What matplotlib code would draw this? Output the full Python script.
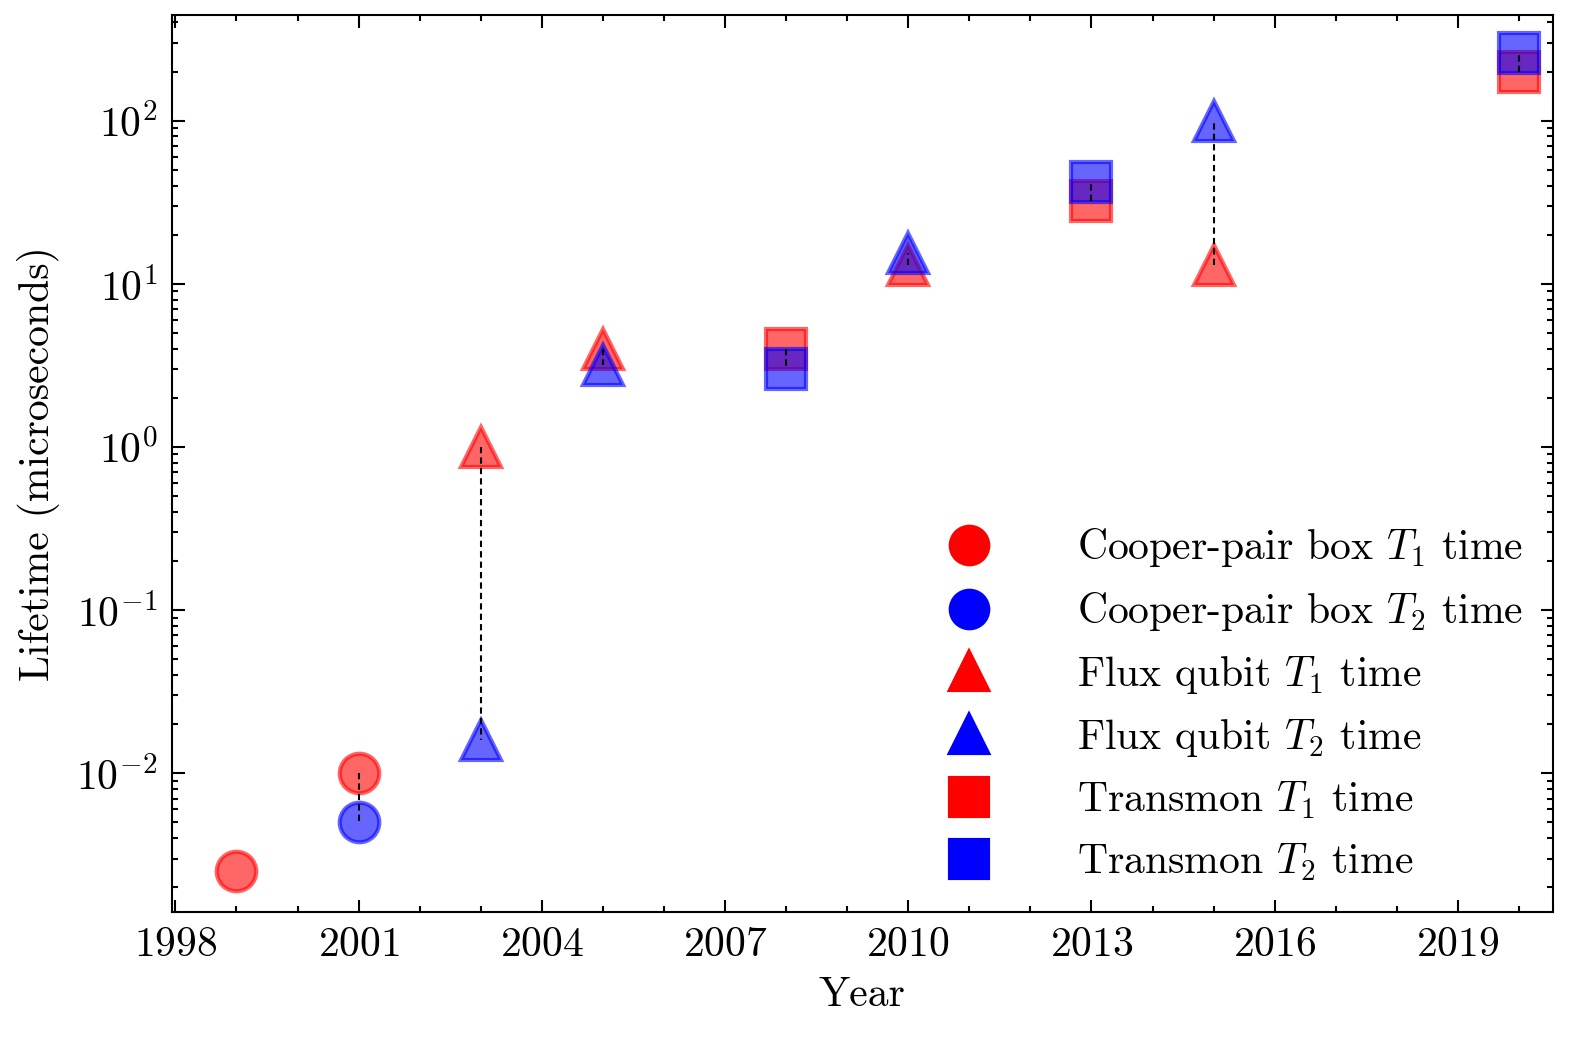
import numpy as np
import matplotlib
matplotlib.use('Agg')
import matplotlib.pyplot as plt

plt.rcParams.update({
    'font.family': 'serif',
    'font.serif': ['cmr10'],
    'mathtext.fontset': 'cm',
    'axes.formatter.use_mathtext': True,
    'font.size': 10,
    'xtick.direction': 'in', 'ytick.direction': 'in',
    'xtick.top': True, 'ytick.right': True,
    'xtick.minor.visible': True, 'ytick.minor.visible': True,
    'xtick.major.size': 3, 'ytick.major.size': 3,
    'xtick.minor.size': 1.5, 'ytick.minor.size': 1.5,
    'axes.linewidth': 0.5, 'xtick.major.width': 0.5, 'ytick.major.width': 0.5,
    'xtick.minor.width': 0.5, 'ytick.minor.width': 0.5,
})

# data
cpb_t1_year = [1999, 2001]
cpb_t1 = [0.0025, 0.01]
cpb_t2_year = [2001]
cpb_t2 = [0.005]
flux_year = [2003, 2005, 2010, 2015]
flux_t1 = [1.0, 4.0, 13.0, 13.0]
flux_t2 = [0.016, 3.2, 15.5, 100.0]
tr_year = [2008, 2013, 2020]
tr_t1 = [4.0, 32.0, 200.0]
tr_t2 = [3.0, 42.0, 260.0]

fig, ax = plt.subplots(figsize=(5.27, 3.47), dpi=300)
ms = 9.5
a = 0.6

# dashed links between T1 and T2
pairs = [(2001, 0.01, 0.005)] + list(zip(flux_year, flux_t1, flux_t2)) + list(zip(tr_year, tr_t1, tr_t2))
for x, y1, y2 in pairs:
    ax.plot([x, x], [y1, y2], 'k--', lw=0.5, zorder=3, dashes=(3, 2))

ax.plot(cpb_t1_year, cpb_t1, 'o', color='red', alpha=a, ms=ms, ls='none')
ax.plot(cpb_t2_year, cpb_t2, 'o', color='blue', alpha=a, ms=ms, ls='none')
ax.plot(flux_year, flux_t1, '^', color='red', alpha=a, ms=ms, ls='none')
ax.plot(flux_year, flux_t2, '^', color='blue', alpha=a, ms=ms, ls='none')
ax.plot(tr_year, tr_t1, 's', color='red', alpha=a, ms=ms, ls='none')
ax.plot(tr_year, tr_t2, 's', color='blue', alpha=a, ms=ms, ls='none')

labels = ['Cooper-pair box $T_1$ time', 'Cooper-pair box $T_2$ time',
          'Flux qubit $T_1$ time', 'Flux qubit $T_2$ time',
          'Transmon $T_1$ time', 'Transmon $T_2$ time']
handles = [plt.Line2D([], [], marker=m, color=c, ls='none', ms=9)
           for m in ['o', '^', 's'] for c in ['red', 'blue']]
ax.legend(handles, labels, loc='lower right', frameon=False, fontsize=10,
          handletextpad=1.6, labelspacing=0.5, borderaxespad=0.3)

ax.set_yscale('log')
ax.set_xlim(1997.95, 2020.55)
ax.set_ylim(10**-2.85, 10**2.65)
ax.set_xticks(np.arange(1998, 2020, 3))
ax.set_xticks(np.arange(1998, 2021, 1), minor=True)
ax.set_xlabel('Year', labelpad=3)
ax.set_ylabel('Lifetime (microseconds)')
fig.subplots_adjust(left=0.109, right=0.982, top=0.986, bottom=0.124)
fig.savefig('out.png', dpi=300)
